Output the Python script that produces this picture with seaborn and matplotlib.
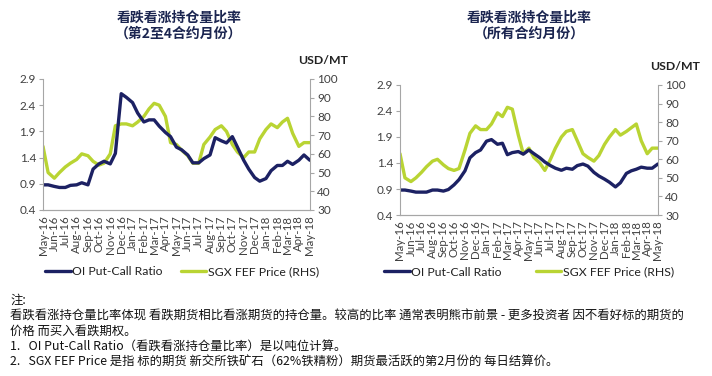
import pandas as pd
import matplotlib
matplotlib.use("Agg")
import matplotlib.pyplot as plt
import matplotlib.dates as mdates
from matplotlib.lines import Line2D
import seaborn as sns

sns.set_style("white")
plt.rcParams["font.family"] = ["Lato", "Noto Sans CJK SC", "DejaVu Sans"]

# half-monthly readings, May-16 .. May-18
dates = pd.date_range("2016-05-01", "2018-05-01", freq="SMS")

ratio_2to4 = [0.88, 0.88, 0.85, 0.83, 0.83, 0.87, 0.88, 0.92, 0.88, 1.18,
              1.28, 1.33, 1.28, 1.48, 2.62, 2.55, 2.45, 2.25, 2.08, 2.12,
              2.12, 2.00, 1.88, 1.80, 1.60, 1.55, 1.45, 1.30, 1.30, 1.38,
              1.45, 1.78, 1.72, 1.68, 1.80, 1.60, 1.35, 1.18, 1.02, 0.95,
              1.00, 1.15, 1.25, 1.25, 1.33, 1.27, 1.35, 1.45, 1.35]
price_2to4 = [64, 50, 47, 50, 53, 55, 57, 60, 59, 56,
              54, 55, 60, 75, 76, 76, 75, 77, 80, 84,
              87, 86, 80, 66, 65, 62, 59, 55, 55, 65,
              69, 73, 75, 72, 65, 61, 58, 61, 61, 68,
              73, 76, 74, 77, 79, 71, 64, 66, 66]

ratio_all = [0.88, 0.88, 0.86, 0.84, 0.84, 0.84, 0.88, 0.88, 0.86, 0.89,
             0.98, 1.08, 1.25, 1.50, 1.60, 1.65, 1.82, 1.85, 1.76, 1.78,
             1.56, 1.60, 1.62, 1.57, 1.65, 1.58, 1.50, 1.42, 1.35, 1.30,
             1.26, 1.30, 1.28, 1.35, 1.38, 1.34, 1.22, 1.15, 1.09, 1.03,
             0.94, 1.02, 1.20, 1.25, 1.28, 1.32, 1.30, 1.30, 1.38]
price_all = [63, 50, 48, 50, 53, 56, 59, 60, 57, 55,
             54, 55, 65, 74, 78, 76, 76, 79, 85, 83,
             88, 87, 73, 63, 66, 61, 58, 54, 60, 66,
             72, 75, 76, 70, 63, 61, 59, 62, 68, 72,
             76, 73, 75, 77, 79, 70, 63, 66, 66]

titles = ["看跌看涨持仓量比率\n（第2至4合约月份）", "看跌看涨持仓量比率\n（所有合约月份）"]
ratio_ticks = [0.4, 0.9, 1.4, 1.9, 2.4, 2.9]
price_ticks = [30, 40, 50, 60, 70, 80, 90, 100]

notes = [
    ("注:", 300),
    ("看跌看涨持仓量比率体现 看跌期货相比看涨期货的持仓量。较高的比率 通常表明熊市前景 - 更多投资者 因不看好标的期货的", 316),
    ("价格 而买入看跌期权。", 331),
    ("1.   OI Put-Call Ratio（看跌看涨持仓量比率）是以吨位计算。", 347),
    ("2.   SGX FEF Price 是指 标的期货 新交所铁矿石（62%铁精粉）期货最活跃的第2月份的 每日结算价。", 362),
]

navy = "#1c2163"
green = "#b9d433"
grey = "#a6a6a6"
text_c = "#404040"

W, H = 712, 376
fig = plt.figure(figsize=(7.12, 3.76), dpi=100)

panels = [
    dict(box=(43, 79, 310, 210), ratio=ratio_2to4, price=price_2to4, title=titles[0],
         title_x=179, usd=(323, 61), leg_x=0.52, leg_y=-0.47, colsp=1.5),
    dict(box=(400, 85, 658, 215), ratio=ratio_all, price=price_all, title=titles[1],
         title_x=529, usd=(675, 67), leg_x=0.50, leg_y=-0.44, colsp=2.8),
]

for p in panels:
    x0, y0, x1, y1 = p["box"]
    ax = fig.add_axes([x0 / W, 1 - y1 / H, (x1 - x0) / W, (y1 - y0) / H])
    ax2 = ax.twinx()
    df = pd.DataFrame({"date": dates, "ratio": p["ratio"], "price": p["price"]})
    sns.lineplot(data=df, x="date", y="price", ax=ax2, color=green, lw=2.4)
    sns.lineplot(data=df, x="date", y="ratio", ax=ax, color=navy, lw=2.4)
    ax.set_zorder(ax2.get_zorder() + 1)
    ax.patch.set_visible(False)

    ax.set_ylim(0.4, 2.9)
    ax.set_yticks(ratio_ticks)
    ax.set_yticklabels([f"{t:.1f}" for t in ratio_ticks])
    ax2.set_ylim(30, 100)
    ax2.set_yticks(price_ticks)
    ax.set_xlim(dates[0], dates[-1] + pd.Timedelta(hours=12))
    ax.xaxis.set_major_locator(mdates.MonthLocator())
    ax.xaxis.set_major_formatter(mdates.DateFormatter("%b-%y"))
    ax.set_xlabel("")
    ax.set_ylabel("")
    ax2.set_ylabel("")

    for a in (ax, ax2):
        for s in a.spines.values():
            s.set_color(grey)
            s.set_linewidth(0.8)
        a.spines["top"].set_visible(False)
        a.tick_params(colors=grey, labelcolor=text_c, labelsize=8.5,
                      length=3, width=0.8, direction="out", pad=2)
    ax.spines["right"].set_visible(False)
    ax2.spines["left"].set_visible(False)
    ax.tick_params(axis="x", labelrotation=90, labelsize=8.3, pad=1)

    handles = [Line2D([], [], color=navy, lw=2.4), Line2D([], [], color=green, lw=2.4)]
    ax.legend(handles, ["OI Put-Call Ratio", "SGX FEF Price (RHS)"], loc="center",
              bbox_to_anchor=(p["leg_x"], p["leg_y"]), ncol=2, frameon=False,
              fontsize=8.8, handlelength=2.1, handletextpad=0.1,
              columnspacing=p["colsp"], labelcolor="#222222")

    fig.text(p["title_x"] / W, 1 - 26 / H, p["title"], ha="center", va="center",
             fontsize=10, fontweight="bold", color="#1b2550",
             family=["Noto Sans CJK SC", "DejaVu Sans"], linespacing=1.2)
    fig.text(p["usd"][0] / W, 1 - p["usd"][1] / H, "USD/MT", ha="center", va="center",
             fontsize=8.8, fontweight="bold", color="#222222")

for txt, y in notes:
    fig.text(10 / W, 1 - y / H, txt, ha="left", va="center", fontsize=8.9,
             color="#111111", family=["Noto Sans CJK SC", "DejaVu Sans"])

fig.savefig("out.png", dpi=100, facecolor="white")
